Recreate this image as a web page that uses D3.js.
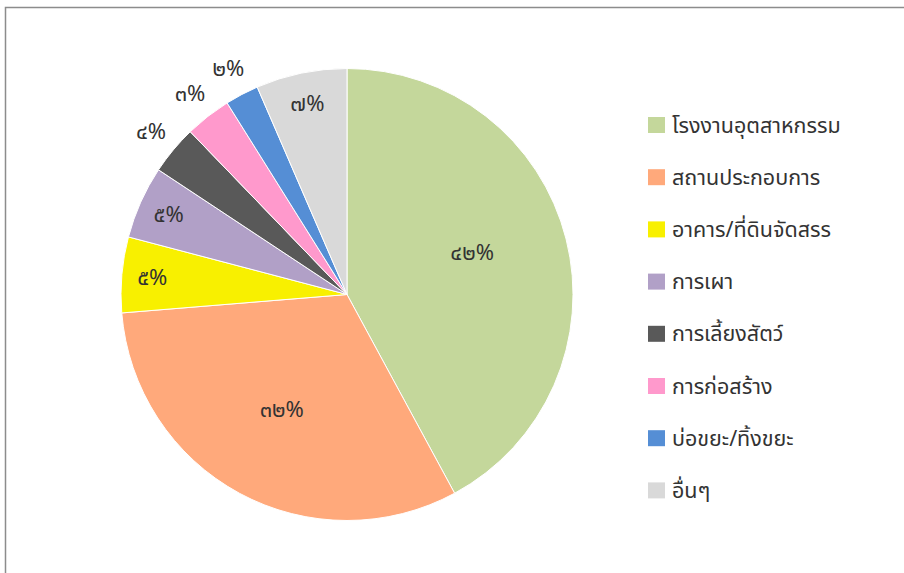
<!DOCTYPE html>
<html>
<head>
<meta charset="utf-8">
<script src="https://cdn.jsdelivr.net/npm/d3@7"></script>
<style>
  html, body { margin: 0; padding: 0; background: #fff; }
  svg { display: block; }
  text { font-family: Tahoma, "Leelawadee UI", "Noto Sans Thai", "Noto Sans", "DejaVu Sans", sans-serif; }
</style>
</head>
<body>
<svg id="chart" width="904" height="573"></svg>
<script>
const categories = ["โรงงานอุตสาหกรรม", "สถานประกอบการ", "อาคาร/ที่ดินจัดสรร", "การเผา", "การเลี้ยงสัตว์", "การก่อสร้าง", "บ่อขยะ/ทิ้งขยะ", "อื่นๆ"];
const values = [42.1, 31.6, 5.4, 5.2, 3.5, 3.3, 2.4, 6.5];
const labels = ["๔๒%", "๓๒%", "๕%", "๕%", "๔%", "๓%", "๒%", "๗%"];
const colors = ["#C4D79B", "#FFA97B", "#F8F000", "#B1A0C7", "#595959", "#FF99CC", "#558ED5", "#D9D9D9"];

const svg = d3.select("#chart");
svg.append("rect").attr("x", 5.5).attr("y", 7.5).attr("width", 1000).attr("height", 1000)
  .attr("fill", "#fff").attr("stroke", "#8c8c8c").attr("stroke-width", 1.5);

const cx = 347, cy = 294.5, R = 226;
const g = svg.append("g").attr("transform", `translate(${cx},${cy})`);
const data = categories.map((c, i) => ({ c, v: values[i], label: labels[i], color: colors[i] }));
const pie = d3.pie().value(d => d.v).sort(null);
const arcs = pie(data);
const arc = d3.arc().innerRadius(0).outerRadius(R);

g.selectAll("path").data(arcs).join("path")
  .attr("d", arc).attr("fill", d => d.data.color)
  .attr("stroke", "#fff").attr("stroke-width", 1);

const inSmall = d3.arc().innerRadius(R * 0.865).outerRadius(R * 0.865);
const outArc = d3.arc().innerRadius(R + 29).outerRadius(R + 29);
g.selectAll("text.lbl").data(arcs).join("text")
  .attr("class", "lbl")
  .attr("transform", (d, i) => {
    let p;
    if (d.data.v > 20) {
      const f = i === 0 ? 0.47 : 0.51;
      const a = d.startAngle + (d.endAngle - d.startAngle) * f;
      p = [Math.sin(a) * R * 0.585, -Math.cos(a) * R * 0.585];
    } else {
      p = (d.data.v < 4 ? outArc : inSmall).centroid(d);
    }
    return `translate(${p[0]},${p[1]})`;
  })
  .attr("text-anchor", "middle").attr("dy", "0.35em")
  .attr("font-size", 22).attr("fill", "#333")
  .text(d => d.data.label);

const legend = svg.append("g").attr("transform", "translate(648,117)");
const row = legend.selectAll("g").data(data).join("g")
  .attr("transform", (d, i) => `translate(0,${i * 52.2})`);
row.append("rect").attr("width", 17).attr("height", 16).attr("fill", d => d.color);
row.append("text").attr("x", 24).attr("y", 8).attr("dy", "0.35em")
  .attr("font-size", 21.5).attr("fill", "#333").text(d => d.c);
</script>
</body>
</html>
